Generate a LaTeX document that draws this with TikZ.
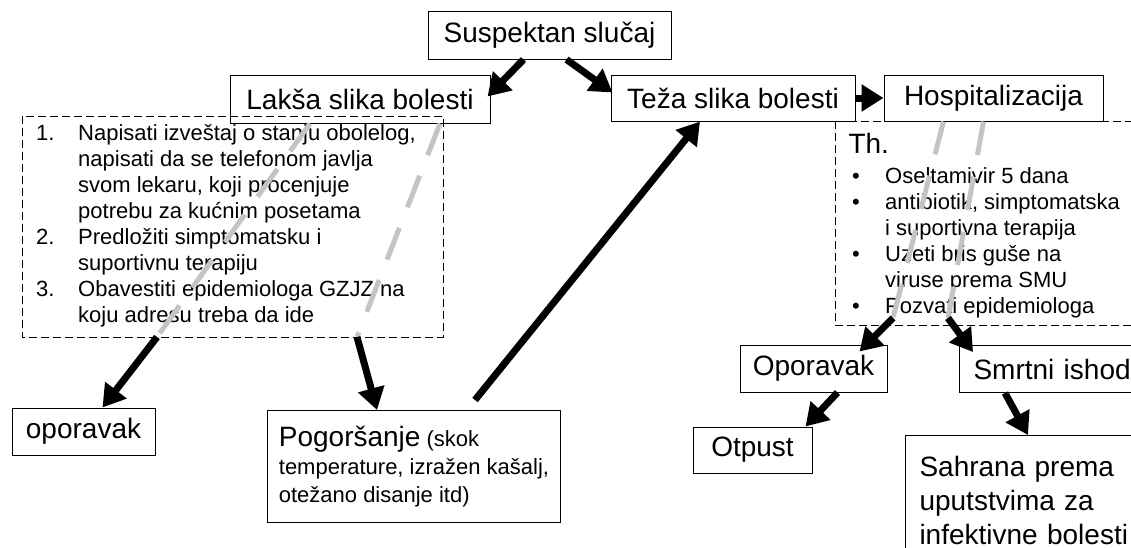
\documentclass[tikz,border=0pt]{standalone}
\usepackage{fontspec}
\setmainfont{Liberation Sans}
\usetikzlibrary{arrows.meta,calc}

\tikzset{
  box/.style={draw, line width=1pt, inner sep=0pt, font=\fontsize{28}{34}\selectfont},
  flow/.style={line width=7pt, -{Triangle[length=22pt,width=26pt]}},
  faded/.style={line width=5pt, color=black!23, dash pattern=on 34pt off 22pt},
  frame/.style={dash pattern=on 8pt off 4pt, line width=0.9pt},
  listtext/.style={anchor=north west, inner sep=0pt, align=left, font=\fontsize{22}{26}\selectfont}
}

\begin{document}
\begin{tikzpicture}[x=1pt,y=-1pt]
  \useasboundingbox (0,0) rectangle (1131,547);
  \clip (0,0) rectangle (1131,547);

  % top row
  \node[box, minimum width=243pt, minimum height=48pt] (susp) at (549.5,35) {Suspektan slučaj};
  \node[box, minimum width=260pt, minimum height=48pt] (laksa) at (360,99) {Lakša slika bolesti};
  \node[box, minimum width=244pt, minimum height=46pt] (teza) at (733,98) {Teža slika bolesti};
  \node[box, minimum width=219pt, minimum height=46pt] (hosp) at (993.5,98) {Hospitalizacija};

  % left list (mild case)
  \node[listtext] (laksalist) at (36,122) {\strut\makebox[42pt][l]{1.}Napisati izveštaj o stanju obolelog,\\
    \hspace*{42pt}napisati da se telefonom javlja\\
    \hspace*{42pt}svom lekaru, koji procenjuje\\
    \hspace*{42pt}potrebu za kućnim posetama\\
    \makebox[42pt][l]{2.}Predložiti simptomatsku i\\
    \hspace*{42pt}suportivnu terapiju\\
    \makebox[42pt][l]{3.}Obavestiti epidemiologa GZJZ na\\
    \hspace*{42pt}koju adresu treba da ide};
  \draw[frame] (22,116) rectangle (443,337);

  % right list (therapy)
  \node[box, draw=none, anchor=base west] (hospth) at (848,153) {Th.};
  \node[listtext] (hosplist) at (852,165) {\strut\makebox[33pt][l]{•}Oseltamivir 5 dana\\
    \makebox[33pt][l]{•}antibiotik, simptomatska\\
    \hspace*{33pt}i suportivna terapija\\
    \makebox[33pt][l]{•}Uzeti bris guše na\\
    \hspace*{33pt}viruse prema SMU\\
    \makebox[33pt][l]{•}Pozvati epidemiologa};
  \draw[frame] (835,121) rectangle (1140,325);

  % lower boxes
  \node[box, minimum width=143pt, minimum height=47pt] (oporlev) at (83.5,431.5) {oporavak};
  \node[box, anchor=north west, minimum width=293pt, minimum height=112pt, align=left,
        font=\fontsize{22}{28}\selectfont] (pogor) at (267,410)
    {{\fontsize{28}{30}\selectfont Pogoršanje} (skok\\ temperature, izražen kašalj,\\ otežano disanje itd)};
  \node[box, minimum width=147pt, minimum height=47pt] (opordes) at (813.5,368.5) {Oporavak};
  \node[box, anchor=north west, inner xsep=14pt, minimum height=47pt, text width=200pt, align=left] (smrt) at (959,345) {Smrtni ishod};
  \node[box, minimum width=119pt, minimum height=46pt] (otpust) at (752.5,450) {Otpust};
  \node[box, anchor=north west, inner xsep=14pt, inner ysep=17pt, text width=230pt, align=left] (sahrana) at (905,435)
    {\strut Sahrana prema\\ uputstvima za\\ infektivne bolesti};

  % bends of the faded lines
  \coordinate (bendA) at (157,337);
  \coordinate (bendB) at (357,337);
  \coordinate (bendC) at (893,318);
  \coordinate (bendD) at (948,318);

  % arrows
  \draw[flow] ([xshift=-26pt]susp.south) -- ([xshift=-3pt,yshift=-22pt]laksa.north east);
  \draw[flow] ([xshift=17pt]susp.south) -- ([xshift=2pt,yshift=-18pt]teza.north west);
  \draw[flow] (teza.east) -- (hosp.west);
  \draw[flow] ([xshift=208pt,yshift=10pt]pogor.north west) -- ([xshift=-33pt]teza.south);
  \draw[faded] ([xshift=-50pt]laksa.south) -- (bendA);
  \draw[flow] (bendA) -- ([xshift=19pt]oporlev.north);
  \draw[faded] ([xshift=80pt]laksa.south) -- (bendB);
  \draw[flow] (bendB) -- ([xshift=-37pt]pogor.north);
  \draw[faded] ([xshift=-50pt]hosp.south) -- (bendC);
  \draw[flow] (bendC) -- ([xshift=46pt,yshift=-7pt]opordes.north);
  \draw[faded] ([xshift=-10pt]hosp.south) -- (bendD);
  \draw[flow] (bendD) -- ([xshift=14pt,yshift=-7pt]smrt.north west);
  \draw[flow] ([xshift=24pt]opordes.south) -- ([xshift=-7pt]otpust.north east);
  \draw[flow] ([xshift=46pt]smrt.south west) -- ([xshift=123pt]sahrana.north west);
\end{tikzpicture}
\end{document}
